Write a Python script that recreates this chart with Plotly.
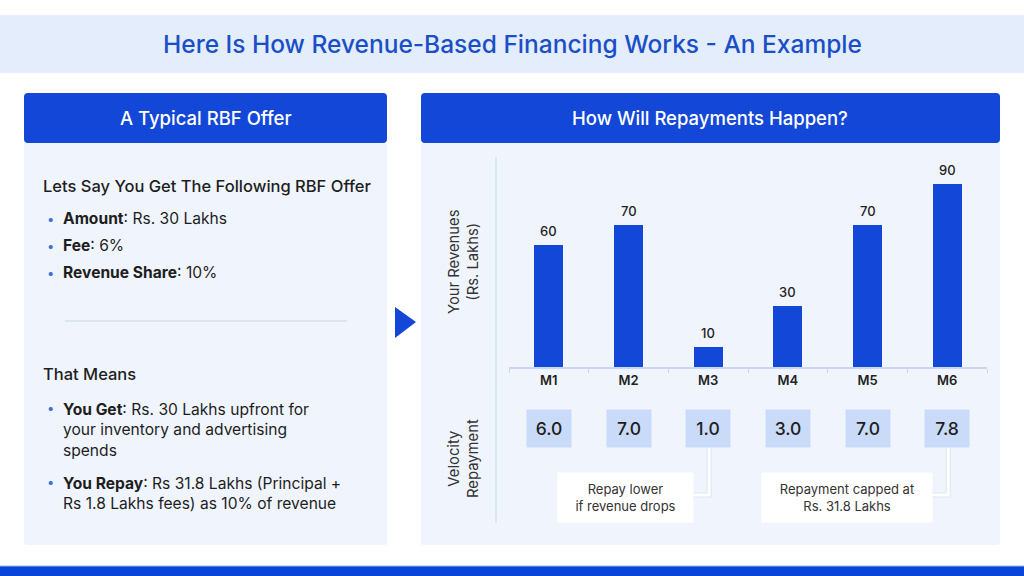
import plotly.graph_objects as go

W, H = 1024, 576

# ---------------- data ----------------
months = ["M1", "M2", "M3", "M4", "M5", "M6"]
revenues = [60, 70, 10, 30, 70, 90]
repayments = [6.0, 7.0, 1.0, 3.0, 7.0, 7.8]

title_text = "Here Is How Revenue-Based Financing Works - An Example"
left_header = "A Typical RBF Offer"
right_header = "How Will Repayments Happen?"
offer_heading = "Lets Say You Get The Following RBF Offer"
offer_items = ["<b>Amount</b>: Rs. 30 Lakhs", "<b>Fee</b>: 6%", "<b>Revenue Share</b>: 10%"]
means_heading = "That Means"
means_items = [
    "<b>You Get</b>: Rs. 30 Lakhs upfront for<br>your inventory and advertising<br>spends",
    "<b>You Repay</b>: Rs 31.8 Lakhs (Principal +<br>Rs 1.8 Lakhs fees) as 10% of revenue",
]
callout_low = "Repay lower<br>if revenue drops"
callout_cap = "Repayment capped at<br>Rs. 31.8 Lakhs"

# ---------------- styling ----------------
FONT = "Inter"
BLUE = "#1247D8"
TITLE_BLUE = "#1A4FC8"
PANEL = "#F0F5FD"
BAND = "#E3EDFC"
BOX = "#C9DBF8"
TXT = "#1E1E1E"


def px(x):
    return x / W


def py(y):
    return 1 - y / H


def rrect(x0, y0, x1, y1, r, color):
    X0, X1 = px(x0), px(x1)
    Y0, Y1 = py(y0), py(y1)
    rx, ry = r / W, r / H
    path = (f"M {X0+rx},{Y0} L {X1-rx},{Y0} Q {X1},{Y0} {X1},{Y0-ry} "
            f"L {X1},{Y1+ry} Q {X1},{Y1} {X1-rx},{Y1} L {X0+rx},{Y1} "
            f"Q {X0},{Y1} {X0},{Y1+ry} L {X0},{Y0-ry} Q {X0},{Y0} {X0+rx},{Y0} Z")
    return dict(type="path", xref="paper", yref="paper", path=path,
                fillcolor=color, line=dict(width=0), layer="below")


def label(text, x, y, size, color=TXT, weight=400, xanchor="center", **kw):
    d = dict(text=text, x=x, y=y, xref="paper", yref="paper", showarrow=False,
             xanchor=xanchor, yanchor="middle",
             font=dict(family=FONT, size=size, color=color, weight=weight))
    d.update(kw)
    return d


# chart geometry (pixels)
X_DOM = (509, 987)
Y_BASE, Y_TOP = 367, 157
Y_MAX = (Y_BASE - Y_TOP) / 183 * 90

fig = go.Figure()
fig.add_trace(go.Bar(
    x=months, y=revenues, marker=dict(color=BLUE, line=dict(width=0)),
    width=0.36, hoverinfo="skip", showlegend=False,
))

shapes = []
shapes.append(dict(type="rect", xref="paper", yref="paper", x0=0, x1=1,
                   y0=py(73), y1=py(15), fillcolor=BAND, line=dict(width=0), layer="below"))
shapes.append(rrect(24, 143, 387, 545, 3, PANEL))
shapes.append(rrect(24, 93, 387, 143, 4, BLUE))
shapes.append(rrect(421, 143, 1000, 545, 3, PANEL))
shapes.append(rrect(421, 93, 1000, 143, 4, BLUE))
shapes.append(dict(type="line", xref="paper", yref="paper", x0=px(65), x1=px(347),
                   y0=py(321), y1=py(321), line=dict(color="#D3DEEF", width=1.5)))
shapes.append(dict(type="path", xref="paper", yref="paper",
                   path=f"M {px(395)},{py(307)} L {px(416)},{py(322)} L {px(395)},{py(338)} Z",
                   fillcolor=BLUE, line=dict(width=0)))
shapes.append(dict(type="line", xref="paper", yref="paper", x0=px(496), x1=px(496),
                   y0=py(157), y1=py(523), line=dict(color="#D6E2F3", width=1.5)))
shapes.append(dict(type="rect", xref="paper", yref="paper", x0=0, x1=1,
                   y0=0, y1=py(566), fillcolor="#0A45D9", line=dict(width=0)))
shapes.append(dict(type="line", xref="paper", yref="paper", x0=0, x1=1,
                   y0=py(566), y1=py(566), line=dict(color="#8DB6F4", width=1)))


def cat_x(i):
    d0, d1 = X_DOM
    return d0 + (i + 0.5) / len(months) * (d1 - d0)


for idx, edge in [(months.index("M3"), 693), (months.index("M6"), 932)]:
    cx = cat_x(idx) + 1
    path = f"M {px(cx)},{py(447)} L {px(cx)},{py(495)} L {px(edge)},{py(495)}"
    shapes.append(dict(type="path", xref="paper", yref="paper", path=path,
                       line=dict(color="#DCE5F2", width=5), layer="below"))
    shapes.append(dict(type="path", xref="paper", yref="paper", path=path,
                       line=dict(color="#FFFFFF", width=3), layer="below"))

ann = []
ann.append(label(title_text, 0.5, py(44), 24.5, TITLE_BLUE, 500))
ann.append(label(left_header, px(206), py(118), 18.5, "white", 500))
ann.append(label(right_header, px(710), py(118), 18.5, "white", 500))

ann.append(label(offer_heading, px(41), py(186), 16.5, TXT, 500, xanchor="left"))
for k, item in enumerate(offer_items):
    yy = 219 + 27 * k
    ann.append(label("•", px(50), py(yy), 13, "#3A6FD8"))
    ann.append(label(item, px(61), py(yy), 15.6, TXT, xanchor="left"))

ann.append(label(means_heading, px(41), py(374), 16.5, TXT, 500, xanchor="left"))
for first_y, item in zip([408, 482], means_items):
    ann.append(label("•", px(50), py(first_y), 13, "#3A6FD8"))
    d = label(item, px(61), py(first_y - 10), 15.6, TXT, xanchor="left", align="left")
    d["yanchor"] = "top"
    ann.append(d)

ann.append(label("Your Revenues<br>(Rs. Lakhs)", px(463), py(262), 14.8, "#333333",
                 textangle=-90))
ann.append(label("Velocity<br>Repayment", px(463), py(459), 14.8, "#333333",
                 textangle=-90))

for m, v in zip(months, revenues):
    ann.append(dict(text=str(v), x=m, y=v, xref="x", yref="y", yshift=14,
                    xanchor="center", yanchor="middle", showarrow=False,
                    font=dict(family=FONT, size=13, color="#222222", weight=500)))

for m, r in zip(months, repayments):
    ann.append(dict(text=f"{r:.1f}", x=m, y=py(428), xref="x", yref="paper",
                    xanchor="center", yanchor="middle",
                    showarrow=False, width=44, height=37, bgcolor=BOX, borderpad=0,
                    font=dict(family=FONT, size=17.5, color="#1E1E1E", weight=500)))

ann.append(label(callout_low, px(625.5), py(497.5), 13, "#333333",
                 width=135, height=49, bgcolor="white", borderpad=0))
ann.append(label(callout_cap, px(847), py(497.5), 13, "#333333",
                 width=170, height=49, bgcolor="white", borderpad=0))

fig.update_layout(
    width=W, height=H, margin=dict(l=0, r=0, t=0, b=0),
    paper_bgcolor="white", plot_bgcolor="rgba(0,0,0,0)",
    shapes=shapes, annotations=ann, bargap=0,
    xaxis=dict(domain=[px(X_DOM[0]), px(X_DOM[1])], type="category",
               range=[-0.5, len(months) - 0.5],
               showline=True, linecolor="#C7D7F0", linewidth=2,
               ticks="outside", tickson="boundaries", ticklen=4, tickcolor="#C7D7F0",
               showgrid=False, zeroline=False, fixedrange=True,
               tickfont=dict(family=FONT, size=13, color="#222222", weight=600)),
    yaxis=dict(domain=[py(Y_BASE), py(Y_TOP)], range=[0, Y_MAX], visible=False,
               showgrid=False, zeroline=False, fixedrange=True),
)

fig.write_html(
    "out.html",
    config={"displayModeBar": False},
    post_script="document.body.style.margin='0';document.body.style.overflow='hidden';",
)
